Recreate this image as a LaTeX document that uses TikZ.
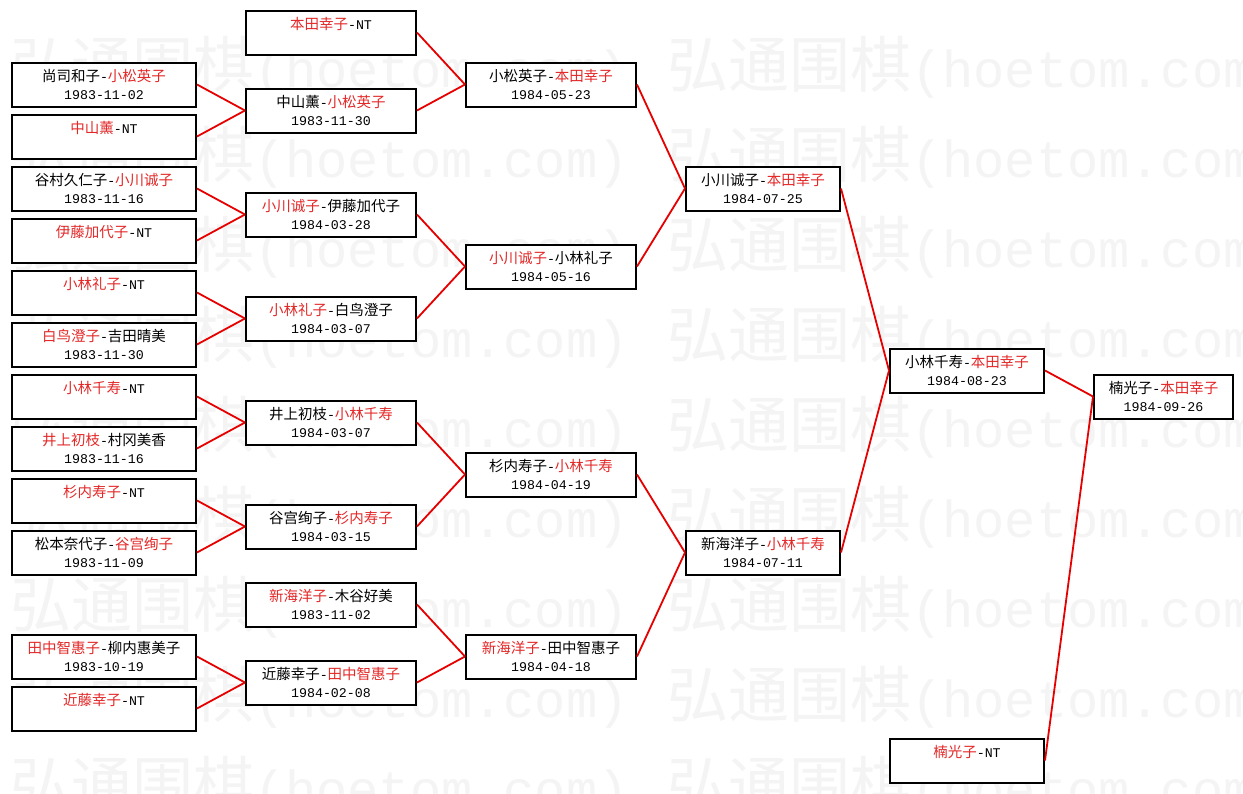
\documentclass[tikz,border=0pt]{standalone}
\usepackage{fontspec}
\setmainfont{Liberation Mono}
\newfontfamily\cjk{Noto Sans CJK SC}
\newfontfamily\mono{Liberation Mono}
\definecolor{tred}{RGB}{228,40,40}
\definecolor{lred}{RGB}{230,0,0}
\definecolor{wm}{RGB}{244,244,244}
\newcommand\K[1]{{\fontsize{14.5}{16}\selectfont\cjk #1}}
\newcommand\R[1]{{\color{tred}\fontsize{14.5}{16}\selectfont\cjk #1}}
\newcommand\hy{{\mono -}}
\newcommand\NT{{\mono NT}}
\newcommand\WM{{\fontsize{61}{61}\selectfont\cjk 弘通围棋}{\fontsize{52}{52}\selectfont\mono (hoetom.com)}}
\tikzset{
  box/.style={draw=black, line width=2pt, fill=white, rectangle, inner sep=0pt, minimum height=44pt},
  txt/.style={inner sep=0pt, anchor=center, font=\fontsize{13.3}{15}\selectfont\mono},
  conn/.style={draw=lred, line width=1.8pt},
  wmk/.style={anchor=west, inner sep=0pt, text=wm}
}
% name, left x, top y, width, first line, second line
\newcommand\bxtwo[6]{%
  \node[box, minimum width=#4pt] (#1) at ({#2+#4/2},{-#3-22.5}) {};
  \node[txt] (#1a) at ({#2+#4/2},{-#3-14}) {#5};
  \node[txt] (#1b) at ({#2+#4/2},{-#3-33}) {#6};
}
\newcommand\bxone[5]{%
  \node[box, minimum width=#4pt] (#1) at ({#2+#4/2},{-#3-22.5}) {};
  \node[txt] (#1a) at ({#2+#4/2},{-#3-14}) {#5};
}
\begin{document}
\begin{tikzpicture}[x=1pt,y=1pt]
\useasboundingbox (0,0) rectangle (1243,-793);
\fill[white] (0,0) rectangle (1243,-793);
% watermark
\begin{scope}
\clip (0,0) rectangle (1243,-793);
\foreach \k in {0,...,8}{
  \node[wmk] (wl\k) at (10,{-67-90*\k}) {\WM};
  \node[wmk] (wr\k) at (667,{-67-90*\k}) {\WM};
}
\end{scope}
% column 1
\bxtwo{A1}{12}{62}{184}{\K{尚司和子}\hy\R{小松英子}}{1983-11-02}
\bxone{A2}{12}{114}{184}{\R{中山薰}\hy\NT}
\bxtwo{A3}{12}{166}{184}{\K{谷村久仁子}\hy\R{小川诚子}}{1983-11-16}
\bxone{A4}{12}{218}{184}{\R{伊藤加代子}\hy\NT}
\bxone{A5}{12}{270}{184}{\R{小林礼子}\hy\NT}
\bxtwo{A6}{12}{322}{184}{\R{白鸟澄子}\hy\K{吉田晴美}}{1983-11-30}
\bxone{A7}{12}{374}{184}{\R{小林千寿}\hy\NT}
\bxtwo{A8}{12}{426}{184}{\R{井上初枝}\hy\K{村冈美香}}{1983-11-16}
\bxone{A9}{12}{478}{184}{\R{杉内寿子}\hy\NT}
\bxtwo{A10}{12}{530}{184}{\K{松本奈代子}\hy\R{谷宫绚子}}{1983-11-09}
\bxtwo{A11}{12}{634}{184}{\R{田中智惠子}\hy\K{柳内惠美子}}{1983-10-19}
\bxone{A12}{12}{686}{184}{\R{近藤幸子}\hy\NT}
% column 2
\bxone{B1}{246}{10}{170}{\R{本田幸子}\hy\NT}
\bxtwo{B2}{246}{88}{170}{\K{中山薰}\hy\R{小松英子}}{1983-11-30}
\bxtwo{B3}{246}{192}{170}{\R{小川诚子}\hy\K{伊藤加代子}}{1984-03-28}
\bxtwo{B4}{246}{296}{170}{\R{小林礼子}\hy\K{白鸟澄子}}{1984-03-07}
\bxtwo{B5}{246}{400}{170}{\K{井上初枝}\hy\R{小林千寿}}{1984-03-07}
\bxtwo{B6}{246}{504}{170}{\K{谷宫绚子}\hy\R{杉内寿子}}{1984-03-15}
\bxtwo{B7}{246}{582}{170}{\R{新海洋子}\hy\K{木谷好美}}{1983-11-02}
\bxtwo{B8}{246}{660}{170}{\K{近藤幸子}\hy\R{田中智惠子}}{1984-02-08}
% column 3
\bxtwo{C1}{466}{62}{170}{\K{小松英子}\hy\R{本田幸子}}{1984-05-23}
\bxtwo{C2}{466}{244}{170}{\R{小川诚子}\hy\K{小林礼子}}{1984-05-16}
\bxtwo{C3}{466}{452}{170}{\K{杉内寿子}\hy\R{小林千寿}}{1984-04-19}
\bxtwo{C4}{466}{634}{170}{\R{新海洋子}\hy\K{田中智惠子}}{1984-04-18}
% column 4
\bxtwo{D1}{686}{166}{154}{\K{小川诚子}\hy\R{本田幸子}}{1984-07-25}
\bxtwo{D2}{686}{530}{154}{\K{新海洋子}\hy\R{小林千寿}}{1984-07-11}
% column 5
\bxtwo{E1}{890}{348}{154}{\K{小林千寿}\hy\R{本田幸子}}{1984-08-23}
\bxone{E2}{890}{738}{154}{\R{楠光子}\hy\NT}
% column 6
\bxtwo{F1}{1094}{374}{139}{\K{楠光子}\hy\R{本田幸子}}{1984-09-26}
% connectors
\foreach \c/\p in {A1/B2,A2/B2,A3/B3,A4/B3,A5/B4,A6/B4,A7/B5,A8/B5,A9/B6,A10/B6,A11/B8,A12/B8,
  B1/C1,B2/C1,B3/C2,B4/C2,B5/C3,B6/C3,B7/C4,B8/C4,
  C1/D1,C2/D1,C3/D2,C4/D2,D1/E1,D2/E1,E1/F1,E2/F1}
  \draw[conn] (\c.east) -- (\p.west);
\end{tikzpicture}
\end{document}
